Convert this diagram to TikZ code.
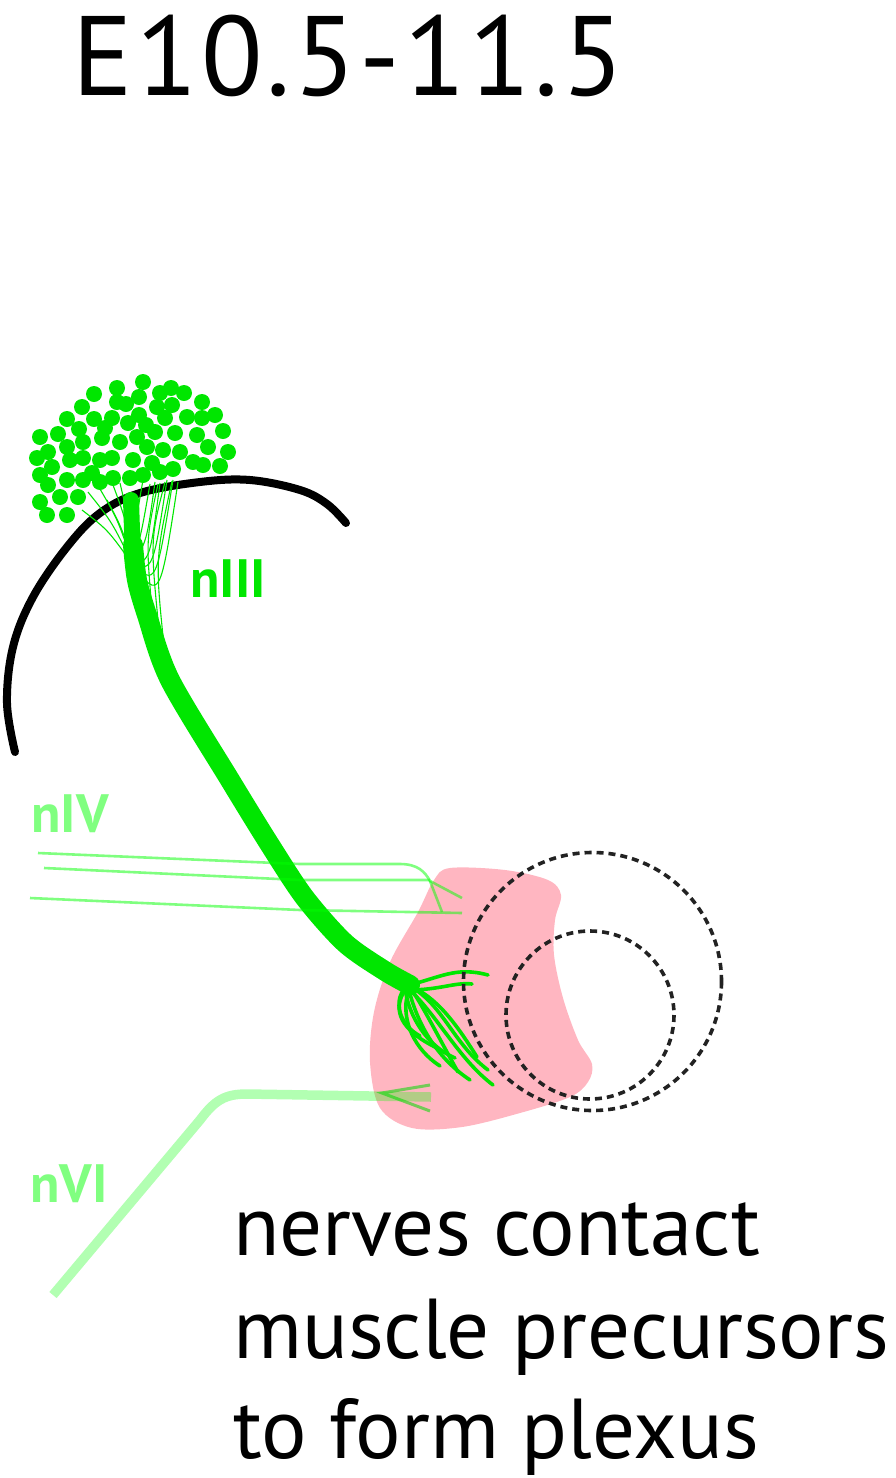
\documentclass[tikz,border=0pt]{standalone}
\usepackage{fontspec}
\setmainfont{PT Sans}
\definecolor{nervegreen}{RGB}{0,230,0}
\definecolor{pinkmuscle}{RGB}{255,182,193}
\definecolor{lightlabel}{RGB}{128,255,128}
\definecolor{dashgray}{RGB}{34,34,34}
\tikzset{
  nerve/.style={draw=nervegreen, line cap=round, line join=round},
  fiber/.style={draw=nervegreen, line width=1.1},
  branch/.style={draw=nervegreen, line width=3.6, line cap=round},
  ntiv/.style={draw={rgb,255:red,0;green,255;blue,0}, draw opacity=0.5, line width=2.6},
  textlabel/.style={inner sep=0, anchor=base west, font=\fontsize{85}{85}\selectfont},
  nervelabel/.style={inner sep=0, anchor=base west, font=\fontsize{54}{54}\selectfont\bfseries},
  ring/.style={draw=dashgray, line width=3.6, dash pattern=on 7 off 5}
}
\begin{document}
\begin{tikzpicture}[x=1pt,y=-1pt]
\useasboundingbox (0,0) rectangle (895,1478);

% stage title
\node[inner sep=0, anchor=base west, font=\fontsize{113}{113}\selectfont\addfontfeature{LetterSpace=3.2}] (title) at (72,95) {E10.5-11.5};

% muscle precursor field
\fill[pinkmuscle] plot[smooth cycle, tension=0.55] coordinates {
  (450,868) (505,870) (548,880) (561,895) (555,920) (554,955) (563,998)
  (578,1040) (592,1064) (588,1082) (570,1097) (520,1113) (462,1127)
  (412,1128) (380,1108) (370,1062) (374,1012) (390,962) (418,912) (434,880)};

% brain outline
\draw[line width=8, line cap=round] plot[smooth, tension=0.6] coordinates {
  (15,752) (7,703) (13,647) (33,597) (67,547) (100,513) (140,493)
  (200,482) (250,480) (300,490) (327,504) (346,523)};

% thin axons leaving the nucleus
\foreach \a/\b/\c/\d in {
  82/510/108/530, 88/492/112/522, 100/489/118/520, 107/500/122/528,
  113/485/126/520, 120/483/129/522, 143/480/136/520, 150/484/142/530,
  155/482/147/540, 160/483/150/560, 167/480/153/570, 173/480/156/585,
  178/482/160/600}
  \draw[fiber] (\a,\b) .. controls (\c,\d) .. (133,565);
\draw[fiber] (165,482) .. controls (150,540) .. (160,640);
\draw[fiber] (172,481) .. controls (155,560) .. (165,655);
\draw[fiber] (158,484) .. controls (146,540) .. (152,610);

% oculomotor nerve trunk
\draw[nerve, line width=16] (131,500) -- (133,560);
\draw[nerve, line width=20] plot[smooth, tension=0.5] coordinates {
  (133,545) (137,580) (147,615) (170,680) (230,780) (270,845)
  (305,898) (345,943) (385,971) (410,985)};

% motor nucleus (nIII)
\foreach \x/\y in {
  94/394, 117/388, 143/382, 117/402, 139/397, 160/393, 171/388, 184/393,
  82/407, 172/405, 157/407, 202/402, 67/419, 94/419, 112/418, 139/415,
  128/423, 165/418, 187/417, 215/415, 202/418, 40/437, 58/434, 79/429,
  102/438, 120/442, 137/437, 155/432, 175/433, 197/435, 223/431, 48/452,
  67/447, 83/442, 147/447, 163/450, 180/452, 208/447, 228/452, 37/458,
  70/460, 83/458, 100/460, 112/458, 133/460, 152/463, 193/462, 203/465,
  220/466, 40/475, 52/467, 67/480, 83/480, 92/473, 100/482, 113/478,
  130/478, 143/475, 160/472, 173/469, 48/485, 40/502, 60/497, 78/497,
  47/515, 67/515, 126/404, 105/428, 146/425}
  \fill[nervegreen] (\x,\y) circle (8);

% terminal branches in the muscle field
\draw[branch] (405,986) .. controls (440,978) and (455,966) .. (488,975);
\draw[branch] (408,990) .. controls (440,990) and (455,982) .. (472,984);
\draw[branch] (405,990) .. controls (392,1010) and (400,1030) .. (437,1048);
\draw[branch] (408,992) .. controls (400,1020) and (415,1050) .. (440,1066);
\draw[branch] (412,990) .. controls (425,1010) and (440,1040) .. (458,1072);
\draw[branch] (414,988) .. controls (440,1000) and (460,1030) .. (477,1057);
\draw[branch] (416,990) .. controls (445,1010) and (455,1045) .. (488,1070);
\draw[branch] (412,992) .. controls (440,1020) and (460,1060) .. (493,1085);
\draw[branch] (402,992) .. controls (395,1005) and (400,1025) .. (420,1036);
\draw[branch] (410,994) .. controls (420,1030) and (440,1060) .. (470,1080);
\draw[branch] (406,994) .. controls (410,1015) and (425,1045) .. (455,1058);

% eye: dashed globe outlines
\draw[ring] (592.5,981.5) circle (129);
\draw[ring] (590,1015) circle (84);

% trochlear nerve (nIV)
\draw[ntiv] (38,853) -- (300,864) -- (400,864) .. controls (418,864) and (425,872) .. (430,881) -- (462,898);
\draw[ntiv] (44,868) -- (300,880) -- (430,880);
\draw[ntiv] (30,898) -- (300,910) -- (462,913);
\draw[ntiv] (430,881) -- (442,912);

% abducens nerve (nVI)
\draw[draw={rgb,255:red,0;green,255;blue,0}, draw opacity=0.3, line width=9.5]
  (53,1295) -- (200,1120) .. controls (215,1100) and (225,1094) .. (247,1094) -- (431,1097);
\draw[draw={rgb,255:red,0;green,220;blue,0}, draw opacity=0.55, line width=3]
  (430,1085) -- (382,1093) -- (430,1111);

% labels
\node[nervelabel, text=nervegreen] (n3) at (190,597) {nIII};
\node[nervelabel, text=lightlabel] (n4) at (31,832) {nIV};
\node[nervelabel, text=lightlabel] (n6) at (30,1202) {nVI};

% caption
\node[textlabel] (cap1) at (233,1255) {nerves contact};
\node[textlabel] (cap2) at (233,1358) {muscle precursors};
\node[textlabel] (cap3) at (233,1458) {to form plexus};
\end{tikzpicture}
\end{document}
